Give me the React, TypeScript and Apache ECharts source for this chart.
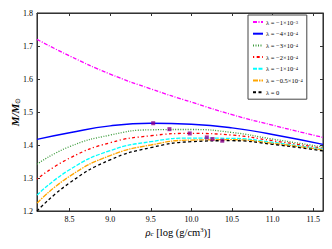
import React, { useEffect, useRef } from "react";
import * as echarts from "echarts";

const rhoC = [8.1, 8.5, 9.0, 9.5, 10.0, 10.5, 11.0, 11.62];
const seriesNames = [
  "λ = −1×10{s|−3}",
  "λ = −4×10{s|−4}",
  "λ = −3×10{s|−4}",
  "λ = −2×10{s|−4}",
  "λ = −1×10{s|−4}",
  "λ = −0.5×10{s|−4}",
  "λ = 0",
];
const mMinus1e3 = [1.72, 1.67, 1.615, 1.57, 1.53, 1.492, 1.46, 1.423];
const mMinus4e4 = [1.417, 1.437, 1.458, 1.466, 1.463, 1.452, 1.432, 1.402];
const mMinus3e4 = [1.342, 1.395, 1.43, 1.446, 1.447, 1.438, 1.418, 1.394];
const mMinus2e4 = [1.297, 1.36, 1.407, 1.428, 1.435, 1.43, 1.413, 1.39];
const mMinus1e4 = [1.248, 1.325, 1.383, 1.41, 1.421, 1.42, 1.408, 1.387];
const mMinus05e4 = [1.224, 1.305, 1.368, 1.4, 1.415, 1.416, 1.405, 1.385];
const mZero = [1.2, 1.285, 1.355, 1.392, 1.41, 1.413, 1.402, 1.382];
const peakRho = [9.53, 9.73, 9.98, 10.19, 10.26, 10.38];
const peakM = [1.466, 1.448, 1.435, 1.423, 1.418, 1.413];
const xTicks = [8.5, 9.0, 9.5, 10.0, 10.5, 11.0, 11.5];

const colors = ["#ff00ff", "#0000ff", "#3a9a3a", "#ff0000", "#00ffff", "#ffa500", "#000000"];
const dashes: any[] = [
  [4, 1.5, 1, 1.5],
  "solid",
  [1, 1.5],
  [1.2, 2.5, 3, 2.5],
  [4, 1.5],
  [5, 1, 1.5, 1],
  [3, 2.5],
];
const allData = [mMinus1e3, mMinus4e4, mMinus3e4, mMinus2e4, mMinus1e4, mMinus05e4, mZero];

const FONT = "Liberation Serif";

export default function App() {
  const ref = useRef<HTMLDivElement>(null);
  useEffect(() => {
    if (!ref.current) return;
    const chart = echarts.init(ref.current, null, { renderer: "svg" });
    const lineSeries = allData.map((d, i) => ({
      name: seriesNames[i],
      type: "line",
      smooth: 0.5,
      symbol: "none",
      data: d.map((v, j) => [rhoC[j], v]),
      lineStyle: { color: colors[i], width: i === 1 ? 1.4 : 1.3, type: dashes[i] },
      itemStyle: { color: colors[i] },
      z: 2,
    }));
    const axisCommon = {
      axisLine: { show: true, lineStyle: { color: "#333", width: 1 } },
      splitLine: { show: false },
    };
    chart.setOption({
      animation: false,
      grid: { left: 37, right: 9, top: 13, bottom: 38, show: true, borderColor: "#222", borderWidth: 1 },
      xAxis: [
        {
          type: "value",
          min: 8.1,
          max: 11.62,
          ...axisCommon,
          axisTick: { show: true, inside: true, length: 3, customValues: xTicks, lineStyle: { color: "#333" } },
          axisLabel: {
            customValues: xTicks,
            formatter: (v: number) => v.toFixed(1),
            fontFamily: FONT,
            fontSize: 8,
            color: "#000",
            margin: 4,
          },
        },
        {
          type: "value",
          position: "top",
          min: 8.1,
          max: 11.62,
          ...axisCommon,
          axisTick: { show: true, inside: true, length: 3, customValues: xTicks, lineStyle: { color: "#333" } },
          axisLabel: { show: false },
        },
      ],
      yAxis: [
        {
          type: "value",
          min: 1.2,
          max: 1.8,
          interval: 0.1,
          ...axisCommon,
          axisTick: { show: true, inside: true, length: 3, lineStyle: { color: "#333" } },
          axisLabel: {
            formatter: (v: number) => v.toFixed(1),
            fontFamily: FONT,
            fontSize: 8,
            color: "#000",
            margin: 4,
          },
        },
        {
          type: "value",
          position: "right",
          min: 1.2,
          max: 1.8,
          interval: 0.1,
          ...axisCommon,
          axisTick: { show: true, inside: true, length: 3, lineStyle: { color: "#333" } },
          axisLabel: { show: false },
        },
      ],
      legend: {
        left: 248,
        top: 15,
        orient: "vertical",
        data: seriesNames,
        itemWidth: 10,
        itemHeight: 4,
        itemGap: 1.7,
        padding: [3, 4, 3, 4],
        borderColor: "#444",
        borderWidth: 1,
        backgroundColor: "#fff",
        itemStyle: { opacity: 0, borderWidth: 0 },
        textStyle: {
          fontFamily: FONT,
          fontSize: 6.5,
          lineHeight: 8,
          height: 8,
          color: "#000",
          padding: [0, 0, 0, -2],
          rich: {
            s: { fontFamily: FONT, fontSize: 4.5, lineHeight: 8, height: 8, verticalAlign: "top", padding: [0, 0, 2, 0] },
          },
        },
      },
      series: [
        ...lineSeries,
        {
          type: "scatter",
          symbol: "rect",
          symbolSize: 4,
          data: peakRho.map((x, i) => [x, peakM[i]]),
          itemStyle: { color: "#8b008b" },
          z: 5,
        },
      ],
      graphic: [
        {
          type: "text",
          x: 178,
          y: 232,
          style: {
            text: "{i|ρ}{sub|c} [log (g/cm{sup|3})]",
            align: "center",
            verticalAlign: "middle",
            fontFamily: FONT,
            fontSize: 10.5,
            fill: "#000",
            rich: {
              i: { fontFamily: FONT, fontStyle: "italic", fontSize: 10.5 },
              sub: { fontFamily: FONT, fontStyle: "italic", fontSize: 7, padding: [4, 0, 0, 0] },
              sup: { fontFamily: FONT, fontSize: 6.5, padding: [0, 0, 6, 0] },
            },
          },
        },
        {
          type: "text",
          x: 15,
          y: 112,
          rotation: Math.PI / 2,
          style: {
            text: "{i|M/M}{sub|⊙}",
            align: "center",
            verticalAlign: "middle",
            fontFamily: FONT,
            fontSize: 11,
            fill: "#000",
            rich: {
              i: { fontFamily: FONT, fontStyle: "italic", fontWeight: "bold", fontSize: 11 },
              sub: { fontFamily: FONT, fontSize: 7, padding: [5, 0, 0, 0] },
            },
          },
        },
      ],
    });
    return () => chart.dispose();
  }, []);
  return <div ref={ref} style={{ width: 332, height: 249, position: "absolute", left: 0, top: 0 }} />;
}
